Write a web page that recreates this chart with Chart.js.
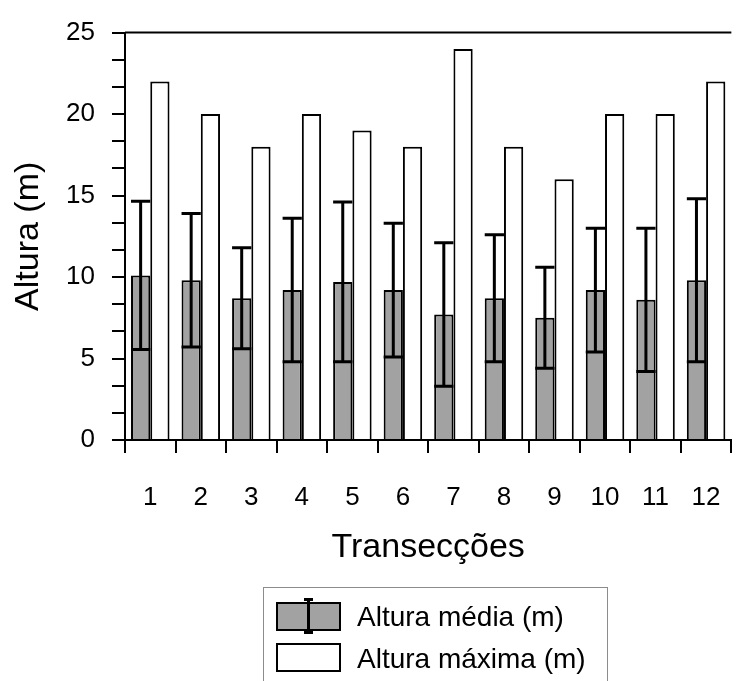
<!DOCTYPE html>
<html lang="pt">
<head>
<meta charset="utf-8">
<title>Altura por transecção</title>
<script src="https://cdn.jsdelivr.net/npm/chart.js@4/dist/chart.umd.min.js"></script>
<style>
  html, body { margin: 0; padding: 0; background: #fff; overflow: hidden; }
  #wrap { position: relative; width: 750px; height: 681px; }
  #grafico { position: absolute; left: 0; top: 0; }
  .leg-box  { position: absolute; left: 263px; top: 587px; width: 345px; height: 130px;
              border: 1px solid #8c8c8c; box-sizing: border-box; }
  .sw       { position: absolute; left: 276px; width: 65px; height: 29px;
              border: 2px solid #000; box-sizing: border-box; }
  .sw-media { top: 602px; background: #a2a2a2; }
  .sw-max   { top: 643px; background: #fff; }
  .eb       { position: absolute; background: #000; }
  .leg-txt  { position: absolute; left: 357px; font: 28px/28px 'Liberation Sans', Arial, sans-serif;
              color: #000; white-space: nowrap; }
</style>
</head>
<body>
<div id="wrap">
  <canvas id="grafico" width="750" height="681"></canvas>

  <div class="leg-box"></div>
  <div class="sw sw-media"></div>
  <div class="eb" style="left:307px; top:598px; width:3px; height:36px"></div>
  <div class="eb" style="left:304px; top:598px; width:9px; height:3px"></div>
  <div class="eb" style="left:304px; top:631px; width:9px; height:3px"></div>
  <div class="leg-txt" style="top:603px">Altura média (m)</div>
  <div class="sw sw-max"></div>
  <div class="leg-txt" style="top:645px">Altura máxima (m)</div>
</div>

<script>
const transeccoes  = ['1', '2', '3', '4', '5', '6', '7', '8', '9', '10', '11', '12'];
const alturaMedia  = [10.1, 9.8, 8.7, 9.2, 9.7, 9.2, 7.7, 8.7, 7.5, 9.2, 8.6, 9.8];
const desvioPadrao = [4.55, 4.1, 3.1, 4.4, 4.9, 4.1, 4.4, 3.9, 3.1, 3.8, 4.4, 5.0];
const alturaMaxima = [22, 20, 18, 20, 19, 18, 24, 18, 16, 20, 20, 22];
const rotulosY     = [0, 5, 10, 15, 20, 25];
const MINOR_POR_INTERVALO = 2;

const CINZA = '#a2a2a2';
const PRETO = '#000';

Chart.defaults.font.family = "'Liberation Sans', Arial, sans-serif";
Chart.defaults.color = PRETO;

// y ticks: every labelled value plus two unlabelled ones in between
function ticksY() {
  const out = [];
  rotulosY.forEach((v, i) => {
    out.push(v);
    if (i < rotulosY.length - 1) {
      const passo = (rotulosY[i + 1] - v) / (MINOR_POR_INTERVALO + 1);
      for (let k = 1; k <= MINOR_POR_INTERVALO; k++) out.push(v + passo * k);
    }
  });
  return out;
}

// mean +/- sd whiskers on the grey bars
const barrasErro = {
  id: 'barrasErro',
  afterDatasetsDraw(chart) {
    const { ctx, scales: { y } } = chart;
    const meta = chart.getDatasetMeta(0);
    ctx.save();
    ctx.strokeStyle = PRETO;
    ctx.lineWidth = 3;
    meta.data.forEach((bar, i) => {
      const yTop = y.getPixelForValue(alturaMedia[i] + desvioPadrao[i]);
      const yBot = y.getPixelForValue(alturaMedia[i] - desvioPadrao[i]);
      const half = bar.width / 2;
      ctx.beginPath();
      ctx.moveTo(bar.x, yTop);
      ctx.lineTo(bar.x, yBot);
      ctx.moveTo(bar.x - half, yTop);
      ctx.lineTo(bar.x + half, yTop);
      ctx.moveTo(bar.x - half, yBot);
      ctx.lineTo(bar.x + half, yBot);
      ctx.stroke();
    });
    ctx.restore();
  },
};

// closing line along the top of the plot
const molduraTopo = {
  id: 'molduraTopo',
  afterDraw(chart) {
    const { ctx, chartArea: a } = chart;
    ctx.save();
    ctx.strokeStyle = PRETO;
    ctx.lineWidth = 2;
    ctx.beginPath();
    ctx.moveTo(a.left, a.top);
    ctx.lineTo(a.right, a.top);
    ctx.stroke();
    ctx.restore();
  },
};

const ctx = document.getElementById('grafico').getContext('2d');
new Chart(ctx, {
  type: 'bar',
  data: {
    labels: transeccoes,
    datasets: [
      {
        label:              'Altura média (m)',
        data:               alturaMedia,
        backgroundColor:    CINZA,
        borderColor:        PRETO,
        borderWidth:        2,
        categoryPercentage: 0.762,
        barPercentage:      1,
      },
      {
        label:              'Altura máxima (m)',
        data:               alturaMaxima,
        backgroundColor:    '#fff',
        borderColor:        PRETO,
        borderWidth:        2,
        categoryPercentage: 0.762,
        barPercentage:      1,
      },
    ],
  },
  options: {
    responsive:       false,
    animation:        false,
    devicePixelRatio: 1,
    layout: { padding: { top: 31, right: 11, bottom: 0, left: 0 } },
    plugins: {
      legend:  { display: false },
      tooltip: { enabled: false },
    },
    scales: {
      x: {
        grid:   { offset: true, drawOnChartArea: false, drawTicks: true, tickLength: 13, color: PRETO, lineWidth: 2 },
        border: { display: true, color: PRETO, width: 2 },
        ticks:  { color: PRETO, font: { size: 26 }, padding: 29, autoSkip: false, maxRotation: 0 },
        title:  { display: true, text: 'Transecções', color: PRETO, font: { size: 34 }, padding: { top: 0, bottom: 113 } },
        afterFit(scale) { scale.height = 241; },
      },
      y: {
        min: 0,
        max: 25,
        afterBuildTicks(scale) { scale.ticks = ticksY().map(v => ({ value: v })); },
        grid:   { drawOnChartArea: false, drawTicks: true, tickLength: 13, color: PRETO, lineWidth: 2 },
        border: { display: true, color: PRETO, width: 2 },
        ticks:  {
          color: PRETO, font: { size: 26 }, padding: 17, autoSkip: false,
          callback: v => (rotulosY.includes(v) ? String(v) : ''),
        },
        title:  { display: true, text: 'Altura (m)', color: PRETO, font: { size: 34 }, padding: { top: 8, bottom: 0 } },
        afterFit(scale) { scale.width = 125; },
      },
    },
  },
  plugins: [barrasErro, molduraTopo],
});
</script>
</body>
</html>
